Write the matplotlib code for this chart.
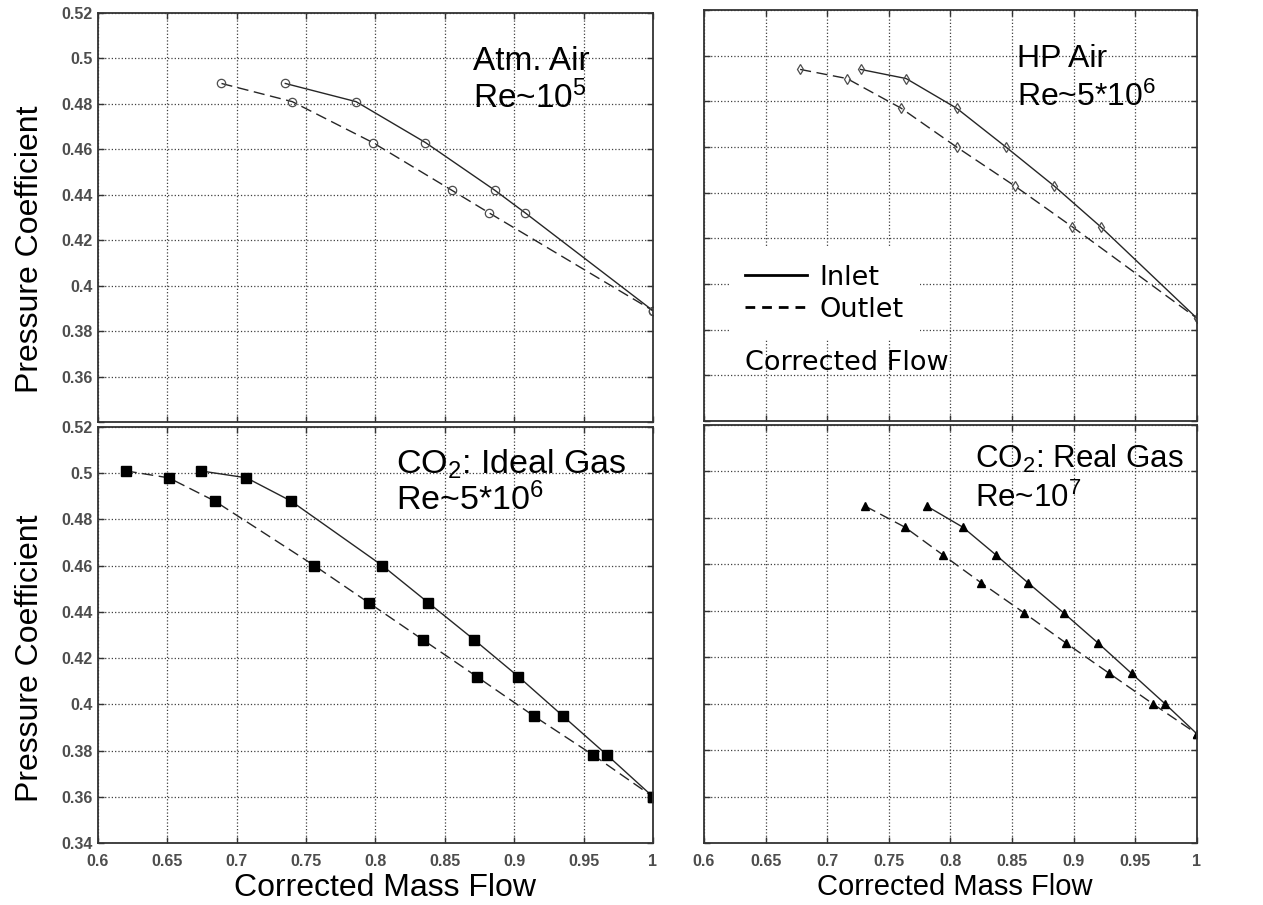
import numpy as np
import matplotlib
matplotlib.use("Agg")
from matplotlib import pyplot as plt
from matplotlib.ticker import FuncFormatter

plt.rcParams['font.family'] = ['Liberation Sans', 'DejaVu Sans']
plt.rcParams['mathtext.fontset'] = 'custom'
plt.rcParams['mathtext.rm'] = 'Liberation Sans'
plt.rcParams['mathtext.it'] = 'Liberation Sans:italic'

# Atm. Air (circles)
air_in_x = [0.735, 0.786, 0.836, 0.886, 0.908, 1.0]
air_in_y = [0.489, 0.481, 0.463, 0.442, 0.432, 0.389]
air_out_x = [0.689, 0.740, 0.798, 0.855, 0.882, 1.0]
air_out_y = [0.489, 0.481, 0.463, 0.442, 0.432, 0.389]

# HP Air (diamonds)
hp_in_x = [0.727, 0.764, 0.805, 0.845, 0.884, 0.922, 1.0]
hp_in_y = [0.494, 0.490, 0.477, 0.460, 0.443, 0.425, 0.385]
hp_out_x = [0.678, 0.716, 0.760, 0.805, 0.852, 0.899, 1.0]
hp_out_y = [0.494, 0.490, 0.477, 0.460, 0.443, 0.425, 0.385]

# CO2 ideal gas (squares)
ig_in_x = [0.674, 0.707, 0.739, 0.805, 0.838, 0.871, 0.903, 0.935, 0.967, 1.0]
ig_in_y = [0.501, 0.498, 0.488, 0.460, 0.444, 0.428, 0.412, 0.395, 0.378, 0.360]
ig_out_x = [0.620, 0.651, 0.684, 0.756, 0.795, 0.834, 0.873, 0.914, 0.957, 1.0]
ig_out_y = [0.501, 0.498, 0.488, 0.460, 0.444, 0.428, 0.412, 0.395, 0.378, 0.360]

# CO2 real gas (triangles)
rg_in_x = [0.781, 0.810, 0.837, 0.863, 0.892, 0.920, 0.947, 0.974, 1.0]
rg_in_y = [0.485, 0.476, 0.464, 0.452, 0.439, 0.426, 0.413, 0.400, 0.387]
rg_out_x = [0.731, 0.763, 0.794, 0.825, 0.860, 0.894, 0.929, 0.964, 1.0]
rg_out_y = [0.485, 0.476, 0.464, 0.452, 0.439, 0.426, 0.413, 0.400, 0.387]

xticks = np.arange(0.6, 1.0001, 0.05)
yticks = np.arange(0.34, 0.5201, 0.02)

fig = plt.figure(figsize=(12.63, 9.05), dpi=100)
ax_tl = fig.add_axes([0.0776, 0.5337, 0.4394, 0.4519])
ax_tr = fig.add_axes([0.5574, 0.5348, 0.3903, 0.4541])
ax_bl = fig.add_axes([0.0776, 0.0685, 0.4394, 0.4597])
ax_br = fig.add_axes([0.5574, 0.0685, 0.3903, 0.4619])

def style(ax, xlab, ylab):
    ax.set_xlim(0.6, 1.0)
    ax.set_ylim(0.34, 0.52)
    ax.set_xticks(xticks)
    ax.set_yticks(yticks)
    ax.xaxis.set_major_formatter(FuncFormatter(lambda v, p: '%g' % round(v, 2)))
    ax.yaxis.set_major_formatter(FuncFormatter(lambda v, p: '%g' % round(v, 2)))
    ax.grid(True, linestyle=':', color='0.25', linewidth=0.9)
    ax.set_axisbelow(True)
    ax.tick_params(direction='in', top=True, right=True, length=4, width=1,
                   color='0.2', labelsize=11.5, labelcolor='0.3')
    ax.tick_params(axis='x', pad=8)
    ax.tick_params(axis='y', pad=4)
    for lab in ax.get_xticklabels() + ax.get_yticklabels():
        lab.set_fontweight('bold')
    for s in ax.spines.values():
        s.set_linewidth(1.3)
        s.set_color('0.2')
    if not xlab:
        ax.tick_params(labelbottom=False)
    if not ylab:
        ax.tick_params(labelleft=False)

style(ax_tl, False, True)
style(ax_tr, False, False)
style(ax_bl, True, True)
style(ax_br, True, False)
ax_tl.get_yticklabels()[0].set_visible(False)

lc = '0.15'
dash = (8, 4)

# top-left
ax_tl.plot(air_in_x, air_in_y, '-', color=lc, lw=1.0, marker='o', ms=6,
           mfc='none', mec='0.3', mew=0.9)
ax_tl.plot(air_out_x, air_out_y, '--', dashes=dash, color=lc, lw=1.0, marker='o',
           ms=6, mfc='none', mec='0.3', mew=0.9)
ax_tl.text(0.870, 0.495, 'Atm. Air', fontsize=24)
ax_tl.text(0.870, 0.478, 'Re~10$^{5}$', fontsize=24)

# top-right
ax_tr.plot(hp_in_x, hp_in_y, '-', color=lc, lw=1.0, marker='d', ms=5,
           mfc='none', mec='0.3', mew=0.9)
ax_tr.plot(hp_out_x, hp_out_y, '--', dashes=dash, color=lc, lw=1.0, marker='d',
           ms=5, mfc='none', mec='0.3', mew=0.9)
ax_tr.text(0.854, 0.495, 'HP Air', fontsize=23)
ax_tr.text(0.854, 0.478, 'Re~5*10$^{6}$', fontsize=23)
h1, = ax_tr.plot([], [], '-', color='k', lw=2)
h2, = ax_tr.plot([], [], '--', dashes=(3.5, 2.5), color='k', lw=2)
leg = ax_tr.legend([h1, h2], ['Inlet', 'Outlet'], loc='upper left',
                   bbox_to_anchor=(0.05, 0.42), borderaxespad=0,
                   prop={'family': 'DejaVu Sans', 'size': 19.5},
                   frameon=True, fancybox=False, edgecolor='none',
                   facecolor='white', framealpha=1, handlelength=2.3,
                   handletextpad=0.45, labelspacing=0.22, borderpad=0.6)
ax_tr.text(0.083, 0.124, 'Corrected Flow', transform=ax_tr.transAxes,
           fontsize=19.5, family='DejaVu Sans')

# bottom-left
ax_bl.plot(ig_in_x, ig_in_y, '-', color=lc, lw=1.0, marker='s', ms=6.5,
           mfc='k', mec='k')
ax_bl.plot(ig_out_x, ig_out_y, '--', dashes=dash, color=lc, lw=1.0, marker='s',
           ms=6.5, mfc='k', mec='k')
ax_bl.text(0.815, 0.500, 'CO$_2$: Ideal Gas', fontsize=24.5)
ax_bl.text(0.815, 0.484, 'Re~5*10$^{6}$', fontsize=24.5)

# bottom-right
ax_br.plot(rg_in_x, rg_in_y, '-', color=lc, lw=1.0, marker='^', ms=6,
           mfc='k', mec='k')
ax_br.plot(rg_out_x, rg_out_y, '--', dashes=dash, color=lc, lw=1.0, marker='^',
           ms=6, mfc='k', mec='k')
ax_br.text(0.820, 0.5016, 'CO$_2$: Real Gas', fontsize=22.5)
ax_br.text(0.820, 0.4846, 'Re~10$^{7}$', fontsize=22.5)

ax_tl.set_ylabel('Pressure Coefficient', fontsize=23)
ax_tl.yaxis.set_label_coords(-0.095, 0.423)
ax_bl.set_ylabel('Pressure Coefficient', fontsize=23)
ax_bl.yaxis.set_label_coords(-0.095, 0.445)
ax_bl.set_xlabel('Corrected Mass Flow', fontsize=23)
ax_bl.xaxis.set_label_coords(0.517, -0.072)
ax_br.set_xlabel('Corrected Mass Flow', fontsize=21)
ax_br.xaxis.set_label_coords(0.509, -0.072)

fig.savefig('out.png', dpi=100)
